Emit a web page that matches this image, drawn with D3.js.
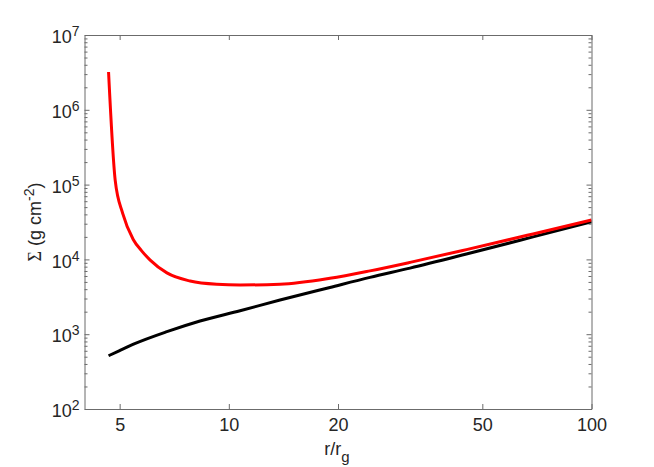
<!DOCTYPE html>
<html>
<head>
<meta charset="utf-8">
<script src="https://cdn.jsdelivr.net/npm/d3@7"></script>
<style>
  html, body { margin: 0; padding: 0; background: #fff; }
  svg { display: block; }
  .tick text { font-family: "Liberation Sans", Arial, sans-serif; font-size: 18px; fill: #262626; }
  .label { font-family: "Liberation Sans", Arial, sans-serif; font-size: 18px; fill: #262626; }
</style>
</head>
<body>
<div id="chart"></div>
<script>
// ── Data ───────────────────────────────────────────────────────────────────
const rRed     = [4.66, 4.86, 5.1, 5.45, 5.75, 6.07, 6.75, 7.82, 9.26, 10.74, 13.84, 19.0, 24.5, 31.6, 45.2, 69.0, 100];
const sigmaRed = [3.2e6, 1.15e5, 4.1e4, 1.85e4, 1.3e4, 9.8e3, 6.6e3, 5.14e3, 4.65e3, 4.55e3, 4.65e3, 5.58e3, 7.02e3, 9.12e3, 1.352e4, 2.19e4, 3.365e4];

const rBlack     = [4.66, 5.0, 5.46, 6.75, 8.33, 10.74, 13.84, 19.0, 24.5, 31.6, 45.2, 69.0, 100];
const sigmaBlack = [515, 605, 735, 1080, 1500, 2060, 2860, 4220, 5750, 7650, 11800, 20000, 31900];

const xTicks  = [5, 10, 20, 50, 100];
const yMajor  = [1e2, 1e3, 1e4, 1e5, 1e6, 1e7];

// ── Layout ─────────────────────────────────────────────────────────────────
const W = 654, H = 467;
const L = 84.5, R = 591.5, T = 35, B = 409;
const AXIS = "#6b6b6b";

const svg = d3.select("#chart").append("svg").attr("width", W).attr("height", H);
svg.append("rect").attr("width", W).attr("height", H).attr("fill", "#fff");

const x = d3.scaleLog().domain([4, 100]).range([L, R]);
const y = d3.scaleLog().domain([1e2, 1e7]).range([B, T]);

const yMinor = [];
for (let e = 2; e < 7; e++) for (let k = 2; k <= 9; k++) yMinor.push(k * Math.pow(10, e));

// ── Curves ─────────────────────────────────────────────────────────────────
const line = d3.line().x(d => x(d[0])).y(d => y(d[1])).curve(d3.curveMonotoneX);

svg.append("path")
  .datum(rBlack.map((r, i) => [r, sigmaBlack[i]]))
  .attr("fill", "none").attr("stroke", "#000").attr("stroke-width", 3)
  .attr("d", line);

svg.append("path")
  .datum(rRed.map((r, i) => [r, sigmaRed[i]]))
  .attr("fill", "none").attr("stroke", "#ff0000").attr("stroke-width", 3)
  .attr("d", line);

// ── Axes ───────────────────────────────────────────────────────────────────
function styleAxis(g) {
  g.selectAll(".domain").attr("stroke", AXIS);
  g.selectAll(".tick line").attr("stroke", AXIS);
}

svg.append("g").attr("transform", `translate(0,${B})`)
  .call(d3.axisBottom(x).tickValues(xTicks).tickSizeInner(-5).tickSizeOuter(0)
    .tickPadding(9).tickFormat(d3.format("d")))
  .call(styleAxis)
  .call(g => g.selectAll(".tick text").attr("font-family", null).attr("font-size", null));

svg.append("g").attr("transform", `translate(0,${T})`)
  .call(d3.axisTop(x).tickValues(xTicks).tickSizeInner(-5).tickSizeOuter(0).tickFormat(""))
  .call(styleAxis);

// y major, left
svg.append("g").attr("transform", `translate(${L},0)`)
  .call(d3.axisLeft(y).tickValues(yMajor).tickSizeInner(-5).tickSizeOuter(0)
    .tickPadding(5).tickFormat(""))
  .call(styleAxis)
  .call(g => g.selectAll(".tick text")
    .attr("font-family", null).attr("font-size", null)
    .attr("dy", "0.43em")
    .each(function (d) {
      const t = d3.select(this);
      t.append("tspan").text("10");
      t.append("tspan").attr("dy", "-7px").attr("font-size", "14px")
        .text(Math.round(Math.log10(d)));
    }));

// y minor, left
svg.append("g").attr("transform", `translate(${L},0)`)
  .call(d3.axisLeft(y).tickValues(yMinor).tickSizeInner(-3).tickSizeOuter(0).tickFormat(""))
  .call(styleAxis)
  .call(g => g.select(".domain").remove());

// y right
svg.append("g").attr("transform", `translate(${R},0)`)
  .call(d3.axisRight(y).tickValues(yMajor).tickSizeInner(-5).tickSizeOuter(0).tickFormat(""))
  .call(styleAxis);
svg.append("g").attr("transform", `translate(${R},0)`)
  .call(d3.axisRight(y).tickValues(yMinor).tickSizeInner(-3).tickSizeOuter(0).tickFormat(""))
  .call(styleAxis)
  .call(g => g.select(".domain").remove());

// ── Labels ─────────────────────────────────────────────────────────────────
const xl = svg.append("text").attr("class", "label")
  .attr("x", 337).attr("y", 455).attr("text-anchor", "middle");
xl.append("tspan").text("r/r");
xl.append("tspan").attr("dy", "7px").attr("font-size", "15px").text("g");

const yl = svg.append("text").attr("class", "label")
  .attr("transform", "translate(41,222) rotate(-90)").attr("text-anchor", "middle");
yl.append("tspan").attr("font-family", "'Liberation Serif', 'DejaVu Serif', serif").text("Σ");
yl.append("tspan").text(" (g cm");
yl.append("tspan").attr("dy", "-7px").attr("font-size", "14px").text("-2");
yl.append("tspan").attr("dy", "7px").text(")");
</script>
</body>
</html>
